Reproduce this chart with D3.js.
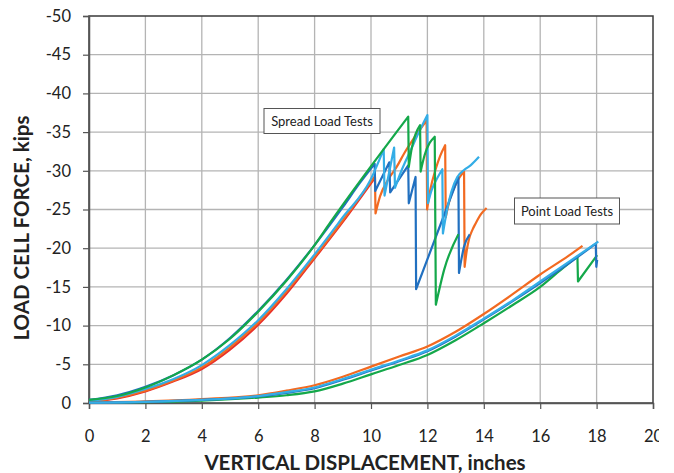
<!DOCTYPE html>
<html>
<head>
<meta charset="utf-8">
<script src="https://cdn.jsdelivr.net/npm/d3@7"></script>
<style>
  body { margin: 0; background: #fff; }
  svg { display: block; overflow: hidden; }
  text { font-family: Lato, "Open Sans", sans-serif; fill: #222; }
</style>
</head>
<body>
<div id="chart"></div>
<script>
// displacement (in), load cell force (kips)
const xTicks = [0, 2, 4, 6, 8, 10, 12, 14, 16, 18, 20]
const yTicks = [0, -5, -10, -15, -20, -25, -30, -35, -40, -45, -50]

const spreadRed = [[0,-0.15],[1,-0.6],[2,-1.5],[3,-2.8],[4,-4.4],[5,-6.9],[6,-10.1],[7,-14.1],[8,-18.7],[9,-23.4],[10.1,-28.9]]
const spreadOrange = [[0,-0.2],[1,-0.7],[2,-1.6],[3,-2.9],[4,-4.6],[5,-7.2],[6,-10.4],[7,-14.4],[8,-18.9],[9,-23.6],[10.14,-29.3],[10.16,-24.5],[10.32,-26.7],[10.6,-28.8],[10.91,-30.5],[11.2,-32.4],[11.5,-34.1],[11.75,-35.4],[11.97,-36.5],[11.99,-25.0],[12.1,-27.5],[12.3,-30.3],[12.45,-31.9],[12.63,-33.3],[12.65,-24.0],[12.8,-26.4],[13.0,-28.2],[13.15,-29.2],[13.3,-29.9],[13.32,-17.6],[13.4,-19.8],[13.47,-21.1],[13.6,-22.4],[13.71,-23.2],[13.9,-24.4],[14.1,-25.2]]
const spreadBlue = [[0,-0.4],[1,-1.0],[2,-2.1],[3,-3.6],[4,-5.6],[5,-8.4],[6,-11.9],[7,-15.9],[8,-20.4],[9,-25.3],[9.6,-28.4],[10.13,-30.9],[10.15,-27.4],[10.65,-31.1],[10.68,-27.2],[11.32,-30.7],[11.34,-25.8],[11.58,-29.2],[11.6,-14.7],[13.1,-29.2],[13.12,-16.8],[13.3,-20.2],[13.5,-21.8]]
const spreadLightBlue = [[0,-0.3],[1,-0.8],[2,-1.8],[3,-3.1],[4,-4.9],[5,-7.5],[6,-10.7],[7,-14.7],[8,-19.2],[9,-24.0],[9.98,-28.8],[10.45,-32.8],[10.48,-26.8],[10.82,-33.0],[10.85,-27.8],[11.1,-30.2],[11.4,-32.6],[11.7,-35.0],[12.0,-37.2],[12.02,-25.8],[12.15,-27.5],[12.3,-28.7],[12.53,-30.2],[12.55,-21.9],[12.7,-25.0],[12.85,-27.3],[13.06,-29.2],[13.3,-30.1],[13.53,-30.7],[13.83,-31.8]]
const spreadGreen = [[0,-0.4],[1,-0.9],[2,-2.0],[3,-3.6],[4,-5.6],[5,-8.3],[6,-11.8],[7,-15.8],[8,-20.4],[8.55,-23.3],[11.32,-37.0],[11.34,-30.5],[11.45,-33.0],[11.74,-35.9],[11.76,-29.9],[11.9,-32.0],[12.26,-34.4],[12.3,-12.7],[12.6,-17.3],[13.1,-21.8]]

const pointOrange = [[0,-0.05],[2,-0.2],[4,-0.5],[6,-1.0],[7,-1.6],[8,-2.3],[9,-3.4],[10,-4.7],[11,-6.0],[12,-7.3],[13,-9.2],[14,-11.5],[15,-14.0],[16,-16.6],[17,-19.0],[17.5,-20.3]]
const pointBlue = [[0,-0.05],[2,-0.15],[4,-0.4],[6,-0.85],[7,-1.3],[8,-1.9],[9,-3.0],[10,-4.2],[11,-5.4],[12,-6.7],[13,-8.6],[14,-10.8],[15,-13.1],[16,-15.5],[17,-18.0],[17.97,-20.6],[17.99,-17.6],[18.02,-18.5]]
const pointLightBlue = [[0,-0.05],[2,-0.15],[4,-0.4],[6,-0.9],[7,-1.4],[8,-2.0],[9,-3.1],[10,-4.3],[11,-5.5],[12,-6.8],[13,-8.7],[14,-10.9],[15,-13.2],[16,-15.7],[17,-18.2],[18.06,-20.85]]
const pointGreen = [[0,-0.05],[2,-0.1],[4,-0.3],[6,-0.7],[7,-1.0],[8,-1.5],[9,-2.5],[10,-3.7],[11,-4.9],[12,-6.2],[13,-8.1],[14,-10.3],[15,-12.6],[16,-15.0],[16.73,-17.2],[17.32,-18.9],[17.34,-15.7],[18.02,-19.1]]

const colors = {red: "#e8302a", orange: "#f26a21", blue: "#2170c0", lightBlue: "#34ade6", green: "#14a84a"}

const width = 659
const height = 473
const plotLeft = 89, plotRight = 653, plotTop = 16, plotBottom = 403

const svg = d3.select("#chart")
  .append("svg")
  .attr("width", width)
  .attr("height", height)

const x = d3.scaleLinear().domain([0, 20]).range([plotLeft, plotRight])
const y = d3.scaleLinear().domain([0, -50]).range([plotBottom, plotTop])

// grid
svg.append("g")
  .selectAll("line")
  .data(xTicks.slice(1, -1))
  .join("line")
  .attr("x1", d => x(d)).attr("x2", d => x(d))
  .attr("y1", plotTop).attr("y2", plotBottom)
  .style("stroke", "#b4b4b4").style("stroke-width", 1.3)

svg.append("g")
  .selectAll("line")
  .data(yTicks.slice(1, -1))
  .join("line")
  .attr("x1", plotLeft).attr("x2", plotRight)
  .attr("y1", d => y(d)).attr("y2", d => y(d))
  .style("stroke", "#b4b4b4").style("stroke-width", 1.3)

// frame
svg.append("rect")
  .attr("x", plotLeft).attr("y", plotTop)
  .attr("width", plotRight - plotLeft).attr("height", plotBottom - plotTop)
  .style("fill", "none").style("stroke", "#3a3a3a").style("stroke-width", 1.5)

// axes
const xAxis = svg.append("g")
  .attr("transform", `translate(0,${plotBottom})`)
  .call(d3.axisBottom(x).tickValues(xTicks).tickSize(6).tickPadding(21).tickFormat(d => String(d)))
const yAxis = svg.append("g")
  .attr("transform", `translate(${plotLeft},0)`)
  .call(d3.axisLeft(y).tickValues(yTicks).tickSize(6).tickPadding(12).tickFormat(d => String(d)))

;[xAxis, yAxis].forEach(a => {
  a.select(".domain").style("stroke", "#555").style("stroke-width", 1.5)
  a.selectAll(".tick line").style("stroke", "#555").style("stroke-width", 1.2)
  a.selectAll("text").style("font-size", "16.5px").style("fill", "#222")
})

// curves: smooth while loading, straight at each load drop
const line = d3.line()
  .x(d => x(d[0]))
  .y(d => y(d[1]))
  .curve(d3.curveMonotoneX)

function loadPath(data){
  const runs = [[data[0]]]
  for(let i = 1; i < data.length; i++){
    if(data[i][1] > data[i - 1][1]) runs.push([])
    runs[runs.length - 1].push(data[i])
  }
  return runs.map((r, i) => {
    const p = r.length > 1 ? line(r) : `M${x(r[0][0])},${y(r[0][1])}`
    return i === 0 ? p : "L" + p.slice(1)
  }).join("")
}

const series = [
  {data: spreadRed, color: colors.red},
  {data: spreadOrange, color: colors.orange},
  {data: spreadBlue, color: colors.blue},
  {data: spreadLightBlue, color: colors.lightBlue},
  {data: spreadGreen, color: colors.green},
  {data: pointGreen, color: colors.green},
  {data: pointOrange, color: colors.orange},
  {data: pointBlue, color: colors.blue},
  {data: pointLightBlue, color: colors.lightBlue}
]

svg.append("g")
  .selectAll("path")
  .data(series)
  .join("path")
  .attr("d", d => loadPath(d.data))
  .style("fill", "none")
  .style("stroke", d => d.color)
  .style("stroke-width", 2.2)
  .style("stroke-linejoin", "round")

// label boxes
function labelBox(text, cx, cy, w, h){
  const g = svg.append("g")
  g.append("rect")
    .attr("x", cx - w / 2).attr("y", cy - h / 2)
    .attr("width", w).attr("height", h)
    .style("fill", "#fff").style("stroke", "#555").style("stroke-width", 1)
  g.append("text")
    .attr("x", cx).attr("y", cy)
    .attr("text-anchor", "middle")
    .attr("dominant-baseline", "central")
    .style("font-size", "13px")
    .text(text)
}
labelBox("Spread Load Tests", 322, 121, 116, 25)
labelBox("Point Load Tests", 567, 211, 105, 26)

// titles
svg.append("text")
  .attr("x", 365).attr("y", 470)
  .attr("text-anchor", "middle")
  .style("font-size", "20.5px").style("font-weight", "bold")
  .text("VERTICAL DISPLACEMENT, inches")

svg.append("text")
  .attr("transform", "translate(29,228) rotate(-90)")
  .attr("text-anchor", "middle")
  .style("font-size", "20.5px").style("font-weight", "bold")
  .text("LOAD CELL FORCE, kips")
</script>
</body>
</html>
